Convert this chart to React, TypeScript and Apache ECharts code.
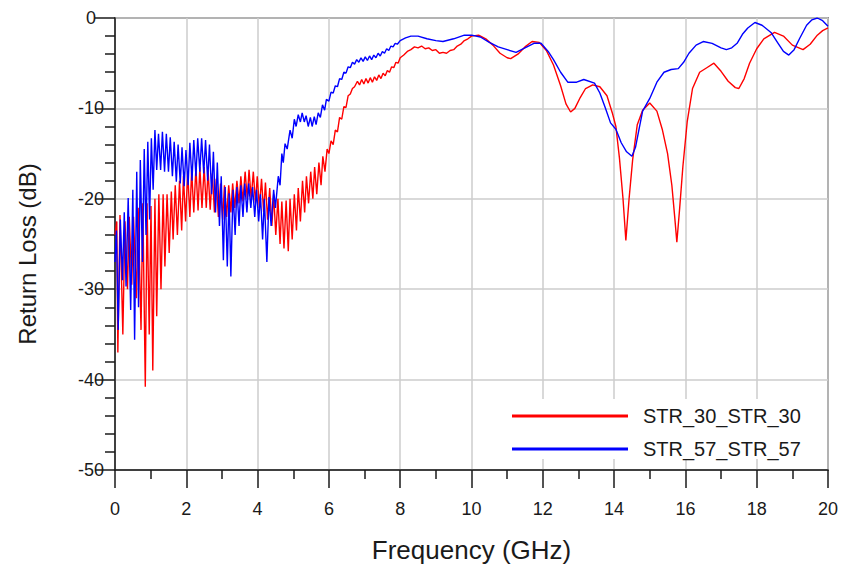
import React, { useEffect, useRef } from "react";
import * as echarts from "echarts";

const seriesNames = ["STR_30_STR_30", "STR_57_STR_57"];
const xTitle = "Frequency (GHz)";
const yTitle = "Return Loss (dB)";

// STR_30_STR_30 : [frequency GHz, return loss dB]
const redCurve: [number, number][] = [
  [0.0,-24],[0.05,-22.5],[0.08,-37],[0.14,-21.8],[0.22,-35],[0.28,-22.5],[0.35,-30],[0.40,-22],[0.47,-29.5],[0.52,-22],
  [0.60,-31],[0.65,-21],[0.73,-34.5],[0.78,-20.5],[0.85,-40.8],[0.90,-20.5],[0.96,-35],[1.01,-20.8],[1.06,-39],[1.12,-20],
  [1.17,-33],[1.23,-19.5],[1.29,-30],[1.35,-19.5],[1.40,-27.5],[1.46,-19.5],[1.52,-26],[1.58,-19.2],[1.63,-24.5],[1.69,-18.5],
  [1.75,-24],[1.81,-18],[1.87,-23.5],[1.92,-17.5],[1.98,-22.5],[2.04,-17],[2.10,-22],[2.15,-16.8],[2.21,-21.5],[2.27,-16.5],
  [2.33,-21.3],[2.38,-16.5],[2.44,-21],[2.50,-16.5],[2.56,-21],[2.61,-16.8],[2.67,-21.2],[2.73,-17.2],[2.79,-21.5],[2.84,-17.8],
  [2.90,-22],[2.96,-18.3],[3.02,-22.3],[3.07,-18.5],[3.13,-22],[3.19,-18.5],[3.25,-21.5],[3.30,-18.3],[3.36,-21],[3.42,-18],
  [3.48,-20.5],[3.53,-17.5],[3.59,-20.3],[3.65,-17],[3.71,-20],[3.76,-16.8],[3.82,-20],[3.88,-17],[3.94,-20.5],[3.99,-17.5],
  [4.05,-21],[4.11,-17.8],[4.17,-21.5],[4.22,-18.2],[4.28,-22.3],[4.34,-18.8],[4.40,-23],[4.45,-19.5],[4.51,-24],[4.57,-20],
  [4.63,-25],[4.68,-20.3],[4.74,-25.5],[4.80,-20.2],[4.86,-25.8],[4.91,-20],[4.97,-24.5],[5.03,-19.5],[5.09,-23.5],[5.14,-18.8],
  [5.20,-22.5],[5.26,-18],[5.32,-21.5],[5.37,-17.5],[5.43,-20.5],[5.49,-17],[5.55,-20],[5.60,-16.5],[5.66,-19.5],[5.72,-16],
  [5.78,-18.5],[5.83,-15.3],[5.89,-17],[5.95,-14.5],[6.0,-15],[6.06,-13.6],[6.12,-14],[6.18,-12.4],[6.24,-12.6],[6.3,-11],
  [6.36,-11.2],[6.42,-9.8],[6.48,-9.9],[6.54,-8.6],[6.6,-8.4],[6.66,-7.8],[6.72,-7.6],[6.8,-7.0],[6.86,-7.4],[6.92,-6.8],
  [6.98,-7.3],[7.04,-6.7],[7.1,-7.2],[7.16,-6.6],[7.22,-7.1],[7.28,-6.5],[7.34,-6.9],[7.4,-6.3],[7.46,-6.7],[7.52,-6.1],
  [7.58,-6.4],[7.64,-5.8],[7.7,-6.0],[7.76,-5.4],[7.82,-5.5],[7.88,-4.9],[7.94,-5.0],[8.0,-4.4],[8.1,-4.1],[8.2,-3.7],
  [8.3,-3.5],[8.4,-3.2],[8.5,-3.3],[8.6,-3.1],[8.7,-3.4],[8.8,-3.3],[8.9,-3.6],[9.0,-3.5],[9.1,-3.9],[9.2,-3.8],
  [9.3,-3.9],[9.4,-3.6],[9.5,-3.5],[9.6,-3.1],[9.7,-2.9],[9.8,-2.5],[9.9,-2.3],[10.0,-2.0],[10.2,-1.9],[10.4,-2.3],
  [10.6,-3.0],[10.8,-3.9],[11.0,-4.4],[11.1,-4.5],[11.3,-4.0],[11.5,-3.2],[11.7,-2.6],[11.9,-2.7],[12.1,-3.6],[12.3,-5.2],
  [12.5,-7.5],[12.65,-9.5],[12.78,-10.4],[12.9,-10.0],[13.05,-8.8],[13.2,-7.8],[13.4,-7.4],[13.6,-7.6],[13.8,-8.6],[13.95,-10.5],
  [14.05,-12],[14.15,-15.5],[14.25,-20],[14.33,-24.6],[14.42,-20],[14.52,-15.7],[14.65,-11.8],[14.8,-10.2],[15.0,-9.4],[15.2,-10.3],
  [15.35,-12.3],[15.5,-15],[15.62,-18.5],[15.7,-22],[15.76,-24.8],[15.84,-21],[15.93,-16.4],[16.05,-11.5],[16.2,-7.8],[16.4,-6.0],
  [16.6,-5.5],[16.8,-5.0],[17.0,-5.9],[17.2,-7.0],[17.4,-7.7],[17.5,-7.8],[17.65,-6.7],[17.8,-5.0],[18.0,-3.4],[18.2,-2.3],
  [18.5,-1.6],[18.75,-2.0],[19.0,-3.0],[19.3,-3.5],[19.5,-2.9],[19.7,-1.9],[19.85,-1.4],[20.0,-1.1]
];

// STR_57_STR_57 : [frequency GHz, return loss dB]
const blueCurve: [number, number][] = [
  [0.0,-27],[0.04,-23.5],[0.09,-34.5],[0.15,-22.3],[0.21,-29],[0.26,-21.5],[0.31,-29.7],[0.37,-19.9],[0.44,-32.3],[0.50,-19],
  [0.55,-35.6],[0.61,-17],[0.66,-32],[0.71,-15.7],[0.77,-27],[0.82,-14.5],[0.87,-24],[0.92,-13.7],[0.97,-22.3],[1.02,-13.3],
  [1.07,-19],[1.12,-12.4],[1.17,-16.8],[1.22,-12.8],[1.28,-16.8],[1.33,-12.6],[1.39,-17],[1.44,-12.8],[1.50,-17],[1.55,-13.2],
  [1.61,-17.5],[1.66,-13.7],[1.72,-18.1],[1.77,-14],[1.83,-18.3],[1.88,-14.3],[1.94,-18.6],[1.99,-14.6],[2.05,-18.5],[2.10,-13.8],
  [2.16,-18],[2.21,-13.5],[2.27,-17.5],[2.32,-13.3],[2.38,-17],[2.43,-13.3],[2.49,-17.2],[2.54,-13.5],[2.60,-18],[2.65,-14],
  [2.71,-19.5],[2.76,-14.8],[2.82,-21.5],[2.87,-16],[2.93,-23],[2.98,-17.5],[3.04,-26.8],[3.09,-18.7],[3.15,-27.5],[3.20,-19.4],
  [3.25,-28.6],[3.31,-19],[3.37,-24],[3.42,-18.7],[3.48,-23],[3.53,-18.5],[3.59,-22],[3.64,-18.3],[3.70,-21.5],[3.75,-18.3],
  [3.81,-21],[3.86,-18.7],[3.92,-22],[3.97,-19],[4.03,-22.5],[4.08,-19.5],[4.14,-24.5],[4.19,-20],[4.26,-27],[4.32,-19.8],
  [4.38,-23],[4.45,-19],[4.50,-21],[4.58,-17.5],[4.63,-18.5],[4.68,-15],[4.72,-16],[4.77,-13.9],[4.83,-14.5],[4.91,-12.4],
  [4.97,-13.3],[5.03,-11.2],[5.08,-12],[5.14,-10.7],[5.2,-11.5],[5.25,-10.5],[5.31,-11.5],[5.36,-10.8],[5.42,-12],[5.48,-11],
  [5.53,-12],[5.59,-10.9],[5.64,-11.8],[5.7,-10.5],[5.76,-11],[5.82,-9.6],[5.88,-10.2],[5.93,-9.0],[6.0,-9.2],[6.06,-8.2],
  [6.12,-8.3],[6.18,-7.5],[6.24,-7.6],[6.3,-6.7],[6.36,-6.8],[6.42,-6.0],[6.48,-6.1],[6.54,-5.4],[6.6,-5.5],[6.66,-4.9],
  [6.72,-5.1],[6.78,-4.6],[6.84,-4.9],[6.9,-4.4],[6.96,-4.8],[7.02,-4.3],[7.08,-4.7],[7.14,-4.2],[7.2,-4.6],[7.26,-4.1],
  [7.32,-4.4],[7.38,-3.9],[7.44,-4.2],[7.5,-3.7],[7.56,-3.9],[7.62,-3.4],[7.68,-3.6],[7.74,-3.1],[7.8,-3.2],[7.86,-2.8],
  [7.92,-2.9],[8.0,-2.5],[8.15,-2.2],[8.3,-2.0],[8.5,-2.0],[8.75,-2.3],[9.0,-2.5],[9.2,-2.6],[9.5,-2.3],[9.8,-1.9],
  [10.0,-1.9],[10.25,-2.1],[10.5,-2.7],[10.75,-3.2],[11.0,-3.5],[11.25,-3.8],[11.5,-3.3],[11.75,-2.8],[11.95,-2.8],[12.15,-3.7],
  [12.3,-4.6],[12.5,-6.0],[12.7,-7.1],[12.95,-7.1],[13.15,-6.8],[13.45,-7.2],[13.6,-8.3],[13.75,-9.9],[13.9,-11.6],[14.05,-12.3],
  [14.2,-13.8],[14.35,-14.8],[14.5,-15.3],[14.6,-14.3],[14.7,-12.3],[14.8,-10.3],[15.0,-8.9],[15.2,-7.1],[15.4,-6.0],[15.6,-5.7],
  [15.8,-5.6],[15.95,-4.9],[16.1,-3.9],[16.3,-3.0],[16.5,-2.6],[16.75,-2.8],[17.0,-3.3],[17.15,-3.5],[17.3,-3.3],[17.45,-2.8],
  [17.6,-1.8],[17.75,-1.1],[17.95,-0.5],[18.15,-0.8],[18.4,-1.6],[18.6,-2.8],[18.75,-3.7],[18.9,-4.1],[19.05,-3.5],[19.2,-2.3],
  [19.4,-0.8],[19.55,-0.2],[19.7,0.0],[19.85,-0.3],[20.0,-0.9]
];

const FONT = '"Liberation Sans", Arial, Helvetica, sans-serif';

export default function App() {
  const ref = useRef<HTMLDivElement>(null);
  useEffect(() => {
    if (!ref.current) return;
    const chart = echarts.init(ref.current, undefined, { renderer: "svg" });
    chart.setOption({
      animation: false,
      backgroundColor: "#ffffff",
      textStyle: { fontFamily: FONT },
      grid: {
        left: 115, top: 18, right: 16, bottom: 99,
        show: true, borderColor: "#3a3a3a", borderWidth: 1.5,
      },
      legend: {
        orient: "vertical",
        left: 505, top: 399,
        padding: [7, 26, 0, 7],
        backgroundColor: "#ffffff",
        itemWidth: 116, itemHeight: 3, itemGap: 13,
        icon: "rect",
        textStyle: { fontSize: 20, color: "#1a1a1a", fontFamily: FONT, padding: [0, 0, 0, 10] },
        data: seriesNames,
        z: 10,
      },
      xAxis: {
        type: "value", min: 0, max: 20, interval: 2,
        name: xTitle, nameLocation: "middle", nameGap: 67,
        nameTextStyle: { fontSize: 26, color: "#1a1a1a", fontFamily: FONT },
        axisLine: { show: true, onZero: false, lineStyle: { color: "#1a1a1a", width: 1.5 } },
        axisTick: { show: true, length: 18, lineStyle: { color: "#1a1a1a", width: 1.5 } },
        minorTick: { show: true, splitNumber: 2, length: 9, lineStyle: { color: "#1a1a1a", width: 1.5 } },
        axisLabel: { fontSize: 18, color: "#1a1a1a", margin: 30, fontFamily: FONT },
        splitLine: { show: true, lineStyle: { color: "#cccccc", width: 1.5 } },
      },
      yAxis: {
        type: "value", min: -50, max: 0, interval: 10,
        name: yTitle, nameLocation: "middle", nameGap: 76, nameRotate: 90,
        nameTextStyle: { fontSize: 24, color: "#1a1a1a", fontFamily: FONT, padding: [0, 20, 0, 0] },
        axisLine: { show: true, onZero: false, lineStyle: { color: "#1a1a1a", width: 1.5 } },
        axisTick: { show: true, length: 20, lineStyle: { color: "#1a1a1a", width: 1.5 } },
        minorTick: { show: true, splitNumber: 5, length: 10, lineStyle: { color: "#1a1a1a", width: 1.5 } },
        axisLabel: { fontSize: 18, color: "#1a1a1a", margin: 24, align: "center", fontFamily: FONT },
        splitLine: { show: true, lineStyle: { color: "#cccccc", width: 1.5 } },
      },
      series: [
        {
          name: seriesNames[0], type: "line", data: redCurve, showSymbol: false, symbol: "none",
          lineStyle: { color: "#ff0000", width: 1.4 }, itemStyle: { color: "#ff0000" }, z: 2,
        },
        {
          name: seriesNames[1], type: "line", data: blueCurve, showSymbol: false, symbol: "none",
          lineStyle: { color: "#0000ff", width: 1.4 }, itemStyle: { color: "#0000ff" }, z: 3,
        },
      ],
    });
    return () => chart.dispose();
  }, []);
  return <div ref={ref} style={{ width: 844, height: 569, position: "absolute", left: 0, top: 0 }} />;
}
